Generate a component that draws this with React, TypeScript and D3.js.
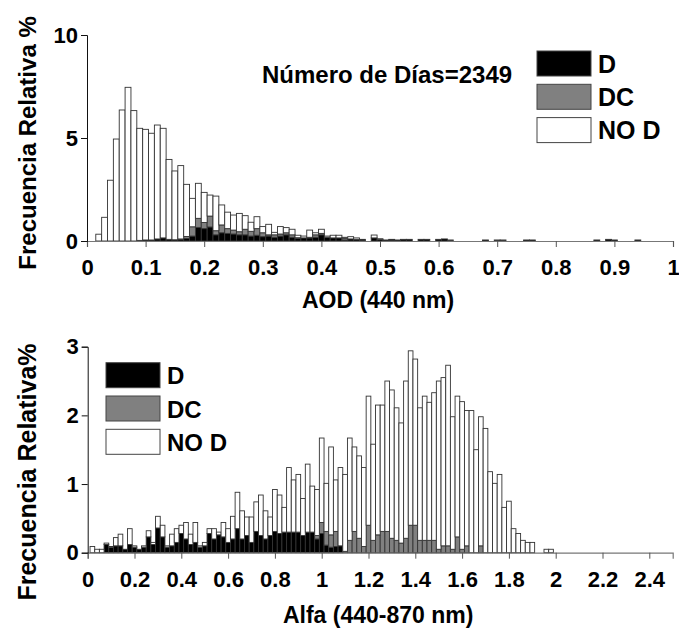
import React, { useRef, useEffect } from 'react';
import * as d3 from 'd3';

// ---------- AOD (440 nm) histogram, bins of 0.01 centred on 0.00 .. 0.99 ----------
const aodCenters = d3.range(100).map((i) => i / 100);

const aodD = [
  0, 0, 0, 0, 0, 0, 0, 0, 0, 0.03,
  0.05, 0.05, 0.1, 0.15, 0.08, 0.06, 0.08, 0.12, 0.24, 0.66,
  0.6, 0.68, 0.3, 0.4, 0.37, 0.34, 0.3, 0.3, 0.24, 0.28,
  0.21, 0.24, 0.18, 0.24, 0.3, 0.18, 0.13, 0.15, 0.15, 0.18,
  0.3, 0.18, 0.15, 0.15, 0.05, 0.1, 0.08, 0.05, 0, 0.15,
  0.08, 0.05, 0.05, 0.05, 0.08, 0.08, 0, 0.08, 0.08, 0,
  0.08, 0.1, 0, 0, 0, 0, 0, 0, 0.05, 0,
  0, 0, 0, 0, 0, 0.05, 0.05, 0, 0, 0,
  0, 0, 0, 0, 0, 0, 0, 0.05, 0, 0.08,
  0.05, 0, 0, 0, 0.05, 0, 0, 0, 0, 0,
];

const aodDC = [
  0, 0, 0, 0, 0, 0, 0, 0, 0, 0,
  0, 0, 0, 0, 0, 0, 0.02, 0.1, 0.45, 0.44,
  0.3, 0.53, 0.2, 0.38, 0.23, 0.19, 0.15, 0.27, 0.23, 0.32,
  0.19, 0.06, 0.12, 0.1, 0.1, 0.12, 0.03, 0, 0.03, 0.12,
  0.07, 0, 0, 0, 0.08, 0, 0, 0, 0, 0,
  0, 0, 0.03, 0, 0, 0, 0, 0, 0, 0,
  0, 0, 0.05, 0, 0, 0, 0, 0, 0, 0,
  0.05, 0.05, 0, 0, 0, 0, 0, 0, 0, 0,
  0, 0, 0, 0, 0, 0, 0, 0, 0, 0,
  0, 0, 0, 0, 0, 0, 0, 0, 0, 0,
];

const aodNoD = [
  0, 0, 0.33, 1.15, 2.95, 4.95, 6.36, 7.46, 6.33, 5.44,
  5.37, 5.18, 5.53, 5.32, 3.88, 3.34, 3.56, 2.53, 1.38, 1.7,
  1.46, 1.02, 1.68, 0.97, 0.8, 0.73, 0.89, 0.66, 0.44, 0.58,
  0.3, 0.51, 0.12, 0.36, 0.25, 0.27, 0.12, 0.09, 0.35, 0.1,
  0.2, 0.06, 0.13, 0.13, 0.05, 0.11, 0.07, 0.03, 0, 0.14,
  0.03, 0, 0, 0, 0, 0, 0, 0, 0, 0,
  0, 0, 0, 0, 0, 0, 0, 0, 0, 0,
  0, 0, 0, 0, 0, 0, 0, 0, 0, 0,
  0, 0, 0, 0, 0, 0, 0, 0, 0, 0,
  0, 0, 0, 0, 0, 0, 0, 0, 0, 0,
];

const aodTicks = [0, 0.1, 0.2, 0.3, 0.4, 0.5, 0.6, 0.7, 0.8, 0.9, 1];
const aodYTicks = [0, 5, 10];

// ---------- Alfa (440-870 nm) histogram, bins of 0.02 centred on 0.00 .. 1.98 ----------
const alfaCenters = d3.range(100).map((i) => (i * 2) / 100);

const alfaD = [
  0, 0, 0, 0, 0.12, 0.08, 0.1, 0.1, 0.05, 0.12,
  0.08, 0.05, 0.08, 0.23, 0.12, 0.36, 0.23, 0.08, 0.1, 0.15,
  0.28, 0.2, 0.12, 0.15, 0.08, 0.1, 0.28, 0.2, 0.26, 0.23,
  0.15, 0.2, 0.35, 0.2, 0.25, 0.15, 0.31, 0.25, 0.2, 0.25,
  0.31, 0.28, 0.3, 0.3, 0.3, 0.3, 0.25, 0.3, 0.3, 0.2,
  0.28, 0.11, 0.08, 0.09, 0.1, 0, 0, 0, 0, 0,
  0, 0, 0, 0, 0, 0, 0, 0, 0, 0,
  0, 0, 0, 0, 0, 0, 0, 0, 0, 0,
  0, 0, 0, 0, 0, 0, 0, 0, 0, 0,
  0, 0, 0, 0, 0, 0, 0, 0, 0, 0,
];

const alfaDC = [
  0, 0, 0, 0, 0, 0, 0, 0, 0, 0,
  0, 0, 0, 0, 0, 0, 0, 0, 0, 0,
  0, 0, 0, 0, 0, 0, 0, 0, 0, 0,
  0, 0, 0, 0, 0, 0, 0, 0, 0, 0,
  0, 0, 0, 0, 0, 0, 0, 0, 0, 0.05,
  0.16, 0.2, 0.18, 0.22, 0, 0.02, 0.18, 0.31, 0.21, 0.09,
  0.4, 0.18, 0.26, 0.31, 0.31, 0.21, 0.18, 0.14, 0.21, 0.4,
  0.4, 0.18, 0.18, 0.18, 0.18, 0.05, 0.1, 0.1, 0.05, 0.23,
  0.05, 0.1, 0, 0, 0.1, 0, 0, 0, 0, 0,
  0, 0, 0, 0, 0, 0, 0, 0, 0, 0,
];

const alfaNoD = [
  0, 0.09, 0.05, 0.05, 0.02, 0.01, 0.12, 0.17, 0, 0.23,
  0.02, 0, 0.02, 0.09, 0.03, 0.17, 0.17, 0.02, 0.17, 0.2,
  0.12, 0.24, 0.15, 0.29, 0.02, 0.05, 0.07, 0.15, 0.04, 0.21,
  0.2, 0.33, 0.53, 0.41, 0.27, 0.37, 0.43, 0.59, 0.41, 0.27,
  0.61, 0.56, 0.36, 0.94, 0.76, 0.84, 0.54, 0.99, 0.67, 0.67,
  1.23, 0.7, 1.28, 0.75, 1.14, 1.12, 1.49, 1.23, 1.2, 1.15,
  1.88, 1.4, 1.89, 1.84, 2.19, 2.16, 1.93, 1.75, 2.29, 2.54,
  2.42, 1.93, 2.1, 2.01, 2.15, 2.45, 2.45, 2.63, 1.93, 2.05,
  2.15, 1.97, 2.07, 1.5, 1.88, 1.81, 1.18, 1.01, 1.14, 0.66,
  0.75, 0.35, 0.28, 0.18, 0.15, 0.15, 0, 0, 0.05, 0.05,
];

const alfaTicks = [0, 0.2, 0.4, 0.6, 0.8, 1, 1.2, 1.4, 1.6, 1.8, 2, 2.2, 2.4];
const alfaYTicks = [0, 1, 2, 3];

const seriesKeys = ['D', 'DC', 'NOD'];
const seriesLabels = ['D', 'DC', 'NO D'];
const seriesColors = ['#000000', '#808080', '#ffffff'];

const FONT = "'Liberation Sans', Arial, Helvetica, sans-serif";

type Panel = {
  centers: number[];
  d: number[];
  dc: number[];
  nod: number[];
  binWidth: number;
  xDomain: [number, number];
  yDomain: [number, number];
  xRange: [number, number];
  yRange: [number, number];
  xTicks: number[];
  yTicks: number[];
  xTitle: string;
  yTitle: string;
  xTitleY: number;
  tickLabelY: number;
  yTitleY: number;
  yTitleSize: number;
};

function drawPanel(svg: any, p: Panel) {
  const x = d3.scaleLinear().domain(p.xDomain).range(p.xRange);
  const y = d3.scaleLinear().domain(p.yDomain).range(p.yRange);

  const table = p.centers.map((c, i) => ({ c, D: p.d[i], DC: p.dc[i], NOD: p.nod[i] }));
  const stacked = d3.stack<any>().keys(seriesKeys)(table);
  const bw = x(p.binWidth) - x(0);

  const g = svg.append('g');
  stacked.forEach((s: any, si: number) => {
    g.append('g')
      .selectAll('rect')
      .data(s.filter((v: any) => v[1] - v[0] > 0.0001))
      .join('rect')
      .attr('x', (v: any) => x(v.data.c) - bw / 2)
      .attr('width', bw)
      .attr('y', (v: any) => y(v[1]))
      .attr('height', (v: any) => y(v[0]) - y(v[1]))
      .attr('fill', seriesColors[si])
      .attr('stroke', '#333')
      .attr('stroke-width', 0.9);
  });

  // x axis
  const xAxis = svg
    .append('g')
    .attr('transform', `translate(0,${p.yRange[0]})`)
    .call(d3.axisBottom(x).tickValues(p.xTicks).tickSize(6).tickFormat((v: any) => String(v)));
  xAxis.select('.domain').attr('stroke', '#777').attr('stroke-width', 1.2);
  xAxis.selectAll('line').attr('stroke', '#555');
  xAxis
    .selectAll('text')
    .attr('y', p.tickLabelY - p.yRange[0])
    .attr('dy', 0)
    .attr('fill', '#000')
    .attr('font-size', 22)
    .attr('font-weight', 'bold')
    .attr('font-family', FONT);

  // y axis
  const yAxis = svg
    .append('g')
    .attr('transform', `translate(${p.xRange[0]},0)`)
    .call(d3.axisLeft(y).tickValues(p.yTicks).tickSize(6).tickFormat(d3.format('d')));
  yAxis.select('.domain').attr('stroke', '#111').attr('stroke-width', 1);
  yAxis.selectAll('line').attr('stroke', '#111');
  yAxis
    .selectAll('text')
    .attr('fill', '#000')
    .attr('font-size', 22)
    .attr('font-weight', 'bold')
    .attr('font-family', FONT);

  svg
    .append('text')
    .attr('x', (p.xRange[0] + p.xRange[1]) / 2 - 2)
    .attr('y', p.xTitleY)
    .attr('text-anchor', 'middle')
    .attr('font-size', 23)
    .attr('font-weight', 'bold')
    .attr('font-family', FONT)
    .text(p.xTitle);

  svg
    .append('text')
    .attr('transform', `translate(36,${p.yTitleY}) rotate(-90)`)
    .attr('text-anchor', 'middle')
    .attr('font-size', p.yTitleSize)
    .attr('font-weight', 'bold')
    .attr('font-family', FONT)
    .text(p.yTitle);
}

function drawLegend(svg: any, left: number, top: number, fontSize: number) {
  seriesLabels.forEach((label, i) => {
    const row = svg.append('g').attr('transform', `translate(${left},${top + i * 33.3})`);
    row
      .append('rect')
      .attr('width', 54)
      .attr('height', 25)
      .attr('fill', seriesColors[i])
      .attr('stroke', '#444')
      .attr('stroke-width', 1);
    row
      .append('text')
      .attr('x', 61)
      .attr('y', 21.5)
      .attr('font-size', fontSize)
      .attr('font-weight', 'bold')
      .attr('font-family', FONT)
      .text(label);
  });
}

export default function App() {
  const svgRef = useRef<SVGSVGElement>(null);

  useEffect(() => {
    const svg = d3.select(svgRef.current);
    svg.selectAll('*').remove();

    drawPanel(svg, {
      centers: aodCenters,
      d: aodD,
      dc: aodDC,
      nod: aodNoD,
      binWidth: 0.01,
      xDomain: [0, 1],
      yDomain: [0, 10],
      xRange: [87, 673],
      yRange: [241, 35],
      xTicks: aodTicks,
      yTicks: aodYTicks,
      xTitle: 'AOD (440 nm)',
      yTitle: 'Frecuencia Relativa %',
      xTitleY: 308,
      tickLabelY: 275,
      yTitleY: 143,
      yTitleSize: 24,
    });

    drawPanel(svg, {
      centers: alfaCenters,
      d: alfaD,
      dc: alfaDC,
      nod: alfaNoD,
      binWidth: 0.02,
      xDomain: [0, 2.5],
      yDomain: [0, 3],
      xRange: [87.7, 672.7],
      yRange: [552.7, 346.7],
      xTicks: alfaTicks,
      yTicks: alfaYTicks,
      xTitle: 'Alfa (440-870 nm)',
      yTitle: 'Frecuencia Relativa%',
      xTitleY: 623,
      tickLabelY: 587,
      yTitleY: 472,
      yTitleSize: 25,
    });

    svg
      .append('text')
      .attr('x', 262)
      .attr('y', 83)
      .attr('font-size', 24)
      .attr('font-weight', 'bold')
      .attr('font-family', FONT)
      .text('Número de Días=2349');

    drawLegend(svg, 537, 51, 25);
    drawLegend(svg, 106, 362.7, 24);
  }, []);

  return (
    <svg
      ref={svgRef}
      width={679}
      height={628}
      style={{ position: 'absolute', left: 0, top: 0, background: '#fff' }}
      xmlns="http://www.w3.org/2000/svg"
    />
  );
}
